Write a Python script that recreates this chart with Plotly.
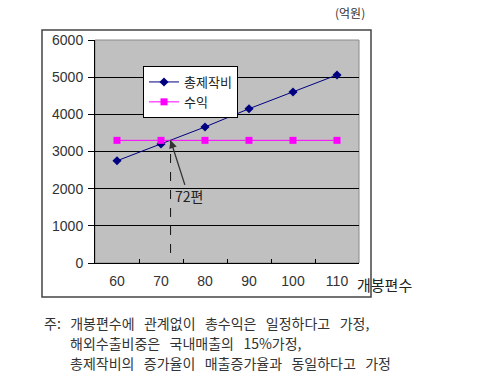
import plotly.graph_objects as go

# ---- data ----
films = [60, 70, 80, 90, 100, 110]
total_cost = [2750, 3200, 3660, 4150, 4600, 5060]
revenue = [3300, 3300, 3300, 3300, 3300, 3300]
series_names = ["총제작비", "수익"]
x_title = "개봉편수"
unit_label = "(억원)"
notes = [
    "주: 개봉편수에 관계없이 총수익은 일정하다고 가정,",
    "해외수출비중은 국내매출의 15%가정,",
    "총제작비의 증가율이 매출증가율과 동일하다고 가정",
]

# ---- layout geometry (pixels) ----
W, H = 480, 392
PL, PR, PT, PB = 95, 359, 40, 263


def px(x):
    return (x - PL) / (PR - PL)


def py(y):
    return (PB - y) / (PB - PT)


def wide(s):
    # wider word gaps, like the original serif typesetting
    return s.replace(" ", "\u00a0\u00a0\u00a0")


cats = [str(v) for v in films]

# break-even: interpolate where total cost crosses revenue
be_idx = None
for i in range(len(films) - 1):
    d0 = total_cost[i] - revenue[i]
    d1 = total_cost[i + 1] - revenue[i + 1]
    if d0 <= 0 <= d1:
        t = -d0 / (d1 - d0)
        be_idx = i + t
        be_film = films[i] + t * (films[i + 1] - films[i])
        be_val = revenue[i] + t * (revenue[i + 1] - revenue[i])
        break

KR = "Noto Sans CJK KR"
LAT = "Liberation Sans"

fig = go.Figure()
fig.add_trace(go.Scatter(
    x=cats, y=total_cost, name=series_names[0], mode="lines+markers",
    line=dict(color="#000080", width=1),
    marker=dict(symbol="diamond", size=7, color="#000080"),
))
fig.add_trace(go.Scatter(
    x=cats, y=revenue, name=series_names[1], mode="lines+markers",
    line=dict(color="#FF00FF", width=1),
    marker=dict(symbol="square", size=7, color="#FF00FF"),
))

shapes = [
    # outer chart frame
    dict(type="rect", xref="paper", yref="paper",
         x0=px(42), x1=px(371), y0=py(297), y1=py(30),
         line=dict(color="#444444", width=1.5), fillcolor="rgba(0,0,0,0)", layer="below"),
    # plot-area border (top/right gray)
    dict(type="rect", xref="paper", yref="paper", x0=0, x1=1, y0=0, y1=1,
         line=dict(color="#8a8a8a", width=1), fillcolor="rgba(0,0,0,0)", layer="below"),
    # dashed break-even line
    dict(type="line", xref="x", yref="y", x0=be_idx, x1=be_idx, y0=270, y1=be_val,
         line=dict(color="#111111", width=1, dash="dash")),
]

note_font = dict(family=KR, size=14, color="#333333")
annotations = [
    dict(x=be_idx, y=be_val, xref="x", yref="y", text=f"{round(be_film)}편",
         showarrow=True, ax=18, ay=56, arrowhead=2, arrowsize=1.2, arrowwidth=1.3,
         arrowcolor="#333333", font=dict(family=KR, size=14, color="#222222")),
    dict(x=px(355), y=py(284), xref="paper", yref="paper", xanchor="left", yanchor="middle",
         text=x_title, showarrow=False, font=dict(family=KR, size=15, color="#222222")),
    dict(x=px(367), y=py(12), xref="paper", yref="paper", xanchor="right", yanchor="middle",
         text=unit_label, showarrow=False, font=dict(family=KR, size=12, color="#333333")),
    dict(x=px(42), y=py(323), xref="paper", yref="paper", xanchor="left", yanchor="middle",
         text=wide(notes[0]), showarrow=False, font=note_font),
    dict(x=px(68), y=py(343), xref="paper", yref="paper", xanchor="left", yanchor="middle",
         text=wide(notes[1]), showarrow=False, font=note_font),
    dict(x=px(68), y=py(363), xref="paper", yref="paper", xanchor="left", yanchor="middle",
         text=wide(notes[2]), showarrow=False, font=note_font),
]

fig.update_layout(
    width=W, height=H,
    margin=dict(l=PL, r=W - PR, t=PT, b=H - PB, pad=0),
    paper_bgcolor="white", plot_bgcolor="#C0C0C0",
    showlegend=True,
    legend=dict(x=px(143), y=py(66), xanchor="left", yanchor="top",
                bgcolor="white", bordercolor="black", borderwidth=1,
                font=dict(family=KR, size=13, color="#222222"),
                tracegroupgap=0, itemwidth=30),
    shapes=shapes, annotations=annotations,
    xaxis=dict(type="category", range=[-0.5, 5.5], showgrid=False,
               showline=True, linecolor="black", linewidth=1,
               ticks="inside", ticklen=4, tickcolor="black", tickson="boundaries",
               tickfont=dict(family=LAT, size=14, color="#333333"),
               ticklabelstandoff=5, zeroline=False, fixedrange=True),
    yaxis=dict(range=[0, 6000], dtick=1000, showgrid=True, gridcolor="black", gridwidth=1,
               showline=True, linecolor="black", linewidth=1,
               ticks="outside", ticklen=6, tickcolor="black",
               tickfont=dict(family=LAT, size=14, color="#333333"),
               ticklabelstandoff=2, zeroline=False, fixedrange=True),
)

fig.write_html("out.html")
